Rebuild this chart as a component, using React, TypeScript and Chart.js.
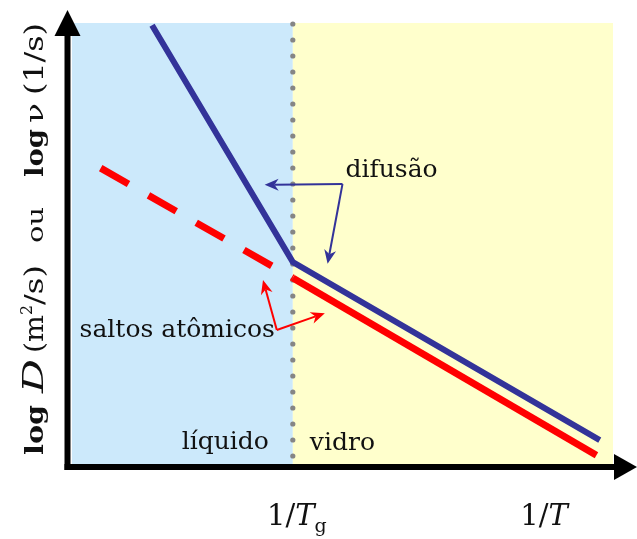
import React, { useEffect, useRef } from "react";
import { Chart, registerables } from "chart.js";

Chart.register(...registerables);

// Axis extents in schematic units (x = 1/T, y = log D or log ν)
const X_TG = 4;
const X_END = 9.8;
const Y_TOP = 10;

// Diffusion: steep in the liquid, shallower in the glass
const blueX = [1.45, 4, 9.56];
const blueY = [9.95, 4.58, 0.54];

// Atomic jumps: one straight line, dashed in the liquid, solid in the glass
const redLiquidX = [0.52, 4];
const redLiquidY = [6.71, 4.22];
const redGlassX = [4, 9.5];
const redGlassY = [4.22, 0.2];

// Tick positions on the 1/T axis
const tickX = [X_TG, 8.55];

// Callout anchors, in data units
const difusaoCorner = { x: 4.9, y: 6.35 };
const difusaoTips = [
  { x: 3.49, y: 6.33 },
  { x: 4.63, y: 4.54 },
];
const saltosCorner = { x: 3.71, y: 3.04 };
const saltosTips = [
  { x: 3.46, y: 4.17 },
  { x: 4.58, y: 3.42 },
];

const NAVY = "#333399";
const RED = "#FF0000";
const SERIF = "'DejaVu Serif', serif";

const toPoints = (xs: number[], ys: number[]) => xs.map((x, i) => ({ x, y: ys[i] }));

// Thin callout line ending in a notched arrowhead
function arrow(
  ctx: CanvasRenderingContext2D,
  x0: number,
  y0: number,
  x1: number,
  y1: number,
  color: string,
  width: number,
  head: number,
  half: number
) {
  const ang = Math.atan2(y1 - y0, x1 - x0);
  const c = Math.cos(ang);
  const s = Math.sin(ang);
  const bx = x1 - c * head;
  const by = y1 - s * head;
  const nx = x1 - c * head * 0.7;
  const ny = y1 - s * head * 0.7;
  ctx.strokeStyle = color;
  ctx.fillStyle = color;
  ctx.lineWidth = width;
  ctx.beginPath();
  ctx.moveTo(x0, y0);
  ctx.lineTo(nx, ny);
  ctx.stroke();
  ctx.beginPath();
  ctx.moveTo(x1, y1);
  ctx.lineTo(bx + s * half, by - c * half);
  ctx.lineTo(nx, ny);
  ctx.lineTo(bx - s * half, by + c * half);
  ctx.closePath();
  ctx.fill();
}

// Vertical axis title pieces: offset (px) from the bottom along the axis, length (px)
const yTitle = [
  { t: "log", f: `bold 25px ${SERIF}`, at: 2, len: 50, dy: 0 },
  { t: "D", f: `italic 28px ${SERIF}`, at: 64, len: 34, dy: 0 },
  { t: "(m", f: `26px ${SERIF}`, at: 104, len: 38, dy: 0 },
  { t: "2", f: `16px ${SERIF}`, at: 142, len: 10, dy: -11 },
  { t: "/s)", f: `26px ${SERIF}`, at: 152, len: 40, dy: 0 },
  { t: "ou", f: `22px ${SERIF}`, at: 214, len: 36, dy: 0 },
  { t: "log", f: `bold 25px ${SERIF}`, at: 280, len: 48, dy: 0 },
  { t: "ν", f: `24px ${SERIF}`, at: 334, len: 20, dy: 0 },
  { t: "(1/s)", f: `26px ${SERIF}`, at: 362, len: 72, dy: 0 },
];

const schematic = {
  id: "schematic",
  beforeDatasetsDraw(chart: any) {
    const { ctx, chartArea: a, scales } = chart;
    const xs = scales.x;
    const xTg = xs.getPixelForValue(X_TG);
    ctx.save();
    ctx.fillStyle = "#CCE9FB";
    ctx.fillRect(a.left, a.top, xTg - a.left, a.bottom - a.top);
    ctx.fillStyle = "#FFFFCC";
    ctx.fillRect(xTg, a.top, a.right - xTg, a.bottom - a.top);
    // dotted glass-transition line
    ctx.fillStyle = "#858585";
    for (let py = a.top + 1; py < a.bottom - 3; py += 16) {
      ctx.beginPath();
      ctx.arc(xTg, py, 2.6, 0, Math.PI * 2);
      ctx.fill();
    }
    ctx.restore();
  },
  afterDatasetsDraw(chart: any) {
    const { ctx, chartArea: a, scales } = chart;
    const xs = scales.x;
    const ys = scales.y;
    const px = (v: number) => xs.getPixelForValue(v);
    const py = (v: number) => ys.getPixelForValue(v);
    ctx.save();

    // axes with arrowheads
    const axX = a.left - 4.5;
    const axY = a.bottom + 3;
    ctx.fillStyle = "#000";
    ctx.fillRect(axX - 3, a.top + 10, 6, axY + 3 - (a.top + 10));
    ctx.fillRect(axX - 3, axY - 3, chart.width - 20 - (axX - 3), 6);
    ctx.beginPath();
    ctx.moveTo(axX, 10);
    ctx.lineTo(axX - 13, 36);
    ctx.lineTo(axX + 13, 36);
    ctx.closePath();
    ctx.fill();
    ctx.beginPath();
    ctx.moveTo(chart.width, axY);
    ctx.lineTo(chart.width - 23, axY - 13);
    ctx.lineTo(chart.width - 23, axY + 13);
    ctx.closePath();
    ctx.fill();

    // callouts
    const dc = { x: px(difusaoCorner.x), y: py(difusaoCorner.y) };
    difusaoTips.forEach((t) => arrow(ctx, dc.x, dc.y, px(t.x), py(t.y), NAVY, 2, 14, 6));
    const sc = { x: px(saltosCorner.x), y: py(saltosCorner.y) };
    saltosTips.forEach((t) => arrow(ctx, sc.x, sc.y, px(t.x), py(t.y), RED, 2, 14, 6));

    ctx.fillStyle = "#111";
    ctx.textBaseline = "middle";
    ctx.font = `25px ${SERIF}`;
    ctx.textAlign = "left";
    ctx.fillText("difusão", dc.x + 3, dc.y - 13);
    ctx.textAlign = "right";
    ctx.fillText("saltos atômicos", sc.x - 2, sc.y + 1);
    ctx.fillText("líquido", px(X_TG) - 24, a.bottom - 22);
    ctx.textAlign = "left";
    ctx.fillText("vidro", px(X_TG) + 17, a.bottom - 21);

    // 1/T axis labels
    const tickBase = axY + 58;
    const drawRuns = (cx: number, runs: { t: string; f: string; dy: number }[]) => {
      let w = 0;
      runs.forEach((r) => {
        ctx.font = r.f;
        w += ctx.measureText(r.t).width;
      });
      let x = cx - w / 2;
      ctx.textAlign = "left";
      ctx.textBaseline = "alphabetic";
      runs.forEach((r) => {
        ctx.font = r.f;
        ctx.fillText(r.t, x, tickBase + r.dy);
        x += ctx.measureText(r.t).width;
      });
    };
    drawRuns(px(tickX[0]) + 4, [
      { t: "1/", f: `29px ${SERIF}`, dy: 0 },
      { t: "T", f: `italic 29px ${SERIF}`, dy: 0 },
      { t: "g", f: `19px ${SERIF}`, dy: 7 },
    ]);
    drawRuns(px(tickX[1]), [
      { t: "1/", f: `29px ${SERIF}`, dy: 0 },
      { t: "T", f: `italic 29px ${SERIF}`, dy: 0 },
    ]);

    // vertical axis title, read bottom to top
    ctx.translate(43, a.bottom - 7);
    ctx.rotate(-Math.PI / 2);
    ctx.textAlign = "left";
    ctx.textBaseline = "alphabetic";
    ctx.fillStyle = "#111";
    yTitle.forEach((r) => {
      ctx.font = r.f;
      const w = ctx.measureText(r.t).width;
      ctx.save();
      ctx.translate(r.at, r.dy);
      ctx.scale(r.len / w, 1);
      ctx.fillText(r.t, 0, 0);
      ctx.restore();
    });
    ctx.restore();
  },
};

export default function App() {
  const ref = useRef<HTMLCanvasElement | null>(null);

  useEffect(() => {
    if (!ref.current) return;
    const chart = new Chart(ref.current, {
      type: "line",
      data: {
        datasets: [
          {
            label: "difusão",
            data: toPoints(blueX, blueY),
            borderColor: NAVY,
            borderWidth: 6,
            pointRadius: 0,
            tension: 0,
            clip: false,
          },
          {
            label: "saltos atômicos (líquido)",
            data: toPoints(redLiquidX, redLiquidY),
            borderColor: RED,
            borderWidth: 7,
            borderDash: [32, 23],
            borderCapStyle: "butt",
            pointRadius: 0,
            clip: false,
          },
          {
            label: "saltos atômicos (vidro)",
            data: toPoints(redGlassX, redGlassY),
            borderColor: RED,
            borderWidth: 7,
            pointRadius: 0,
            clip: false,
          },
        ],
      },
      options: {
        responsive: false,
        animation: false,
        events: [],
        layout: { padding: { left: 72, right: 24, top: 23, bottom: 75 } },
        scales: {
          x: { type: "linear", min: 0, max: X_END, display: false },
          y: { type: "linear", min: 0, max: Y_TOP, display: false },
        },
        plugins: { legend: { display: false }, tooltip: { enabled: false } },
      },
      plugins: [schematic],
    });
    return () => chart.destroy();
  }, []);

  return (
    <div style={{ position: "fixed", left: 0, top: 0, width: 637, height: 539, background: "#fff" }}>
      <canvas ref={ref} width={637} height={539} />
    </div>
  );
}
